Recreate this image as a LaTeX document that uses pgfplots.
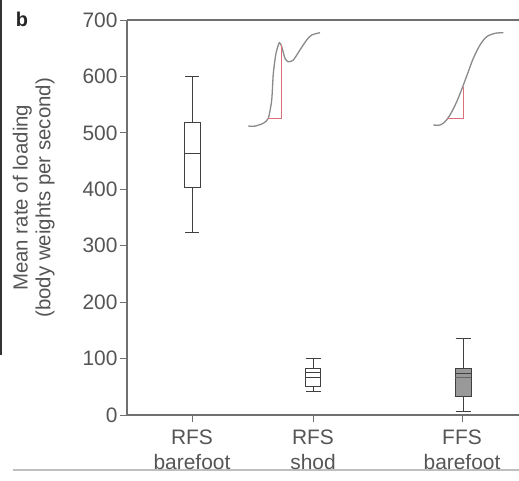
\documentclass[border=0pt]{standalone}
\usepackage{fontspec}
\setmainfont{Liberation Sans}
\usepackage{pgfplots}
\pgfplotsset{compat=1.18}
\usepgfplotslibrary{statistics}
\definecolor{axgray}{HTML}{707070}
\definecolor{txtgray}{HTML}{555555}
\definecolor{curvegray}{HTML}{8A8A8A}
\definecolor{redline}{HTML}{D9707A}
\begin{document}
\begin{tikzpicture}
\useasboundingbox (0,0) rectangle (519bp,481bp);
\fill[white] (0,0) rectangle (519bp,481bp);
\draw[black!80, line width=1.5bp] (0.75bp,481bp) -- (0.75bp,126bp);
\draw[black!25, line width=1.2bp] (13bp,11bp) -- (519bp,11bp);
\node[font=\fontsize{20}{22}\selectfont\bfseries, text=black!85] at (22bp,462bp) {b};
\begin{axis}[
  at={(127bp,66bp)}, anchor=south west,
  scale only axis, width=392bp, height=395bp,
  xmin=127, xmax=519, ymin=0, ymax=700,
  axis x line*=box, axis y line*=left,
  axis line style={axgray, line width=1.2bp},
  tick style={axgray, line width=1bp},
  tick align=outside, major tick length=7bp,
  xtick pos=bottom, ytick pos=left,
  xtick={192,313,462},
  xticklabels={RFS\\barefoot, RFS\\shod, FFS\\barefoot},
  xticklabel style={align=center, text=txtgray, font=\fontsize{21}{25}\selectfont, yshift=-4bp},
  ytick={0,100,...,700},
  yticklabel style={text=txtgray, font=\fontsize{21}{22}\selectfont, xshift=1bp},
  /pgf/number format/assume math mode=true,
  ylabel={Mean rate of loading\\(body weights per second)},
  ylabel style={align=center, text=txtgray, font=\fontsize{20.5}{23}\selectfont, at={(rel axis cs:-0.238,0.55)}, anchor=center},
  clip=false,
  boxplot/draw direction=y,
]
% box plots
\addplot[boxplot prepared={draw position=192, lower whisker=323, lower quartile=404, median=464, upper quartile=519, upper whisker=600, box extend=16, whisker extend=14}, draw=black!75, line width=1bp, fill=white] coordinates {};
\addplot[boxplot prepared={draw position=313, lower whisker=41, lower quartile=51, median=67, upper quartile=83, upper whisker=100, box extend=15, whisker extend=15}, draw=black!75, line width=1bp, fill=white] coordinates {};
\addplot[draw=black!75, line width=0.8bp] coordinates {(305.5,76) (320.5,76)};
\addplot[boxplot prepared={draw position=463, lower whisker=7, lower quartile=32, median=74, upper quartile=82, upper whisker=136, box extend=16, whisker extend=15}, draw=black!75, line width=1bp, fill=black!40] coordinates {};
\addplot[draw=black!60, line width=0.8bp] coordinates {(455,66) (471,66)};
% inset force curves
\addplot[curvegray, line width=1.3bp, smooth, tension=0.4] coordinates {
(248.3,512) (255,512) (263.3,517) (268.3,525.8) (271.7,558) (273.3,605) (276,641) (279.3,659.8) (281.7,652.7) (285,632) (288.3,626) (293.3,629) (300,647) (306.7,664.6) (311.7,673.4) (320,677.5)};
\addplot[redline, line width=1bp] coordinates {(268,526) (281,526) (281,656)};
\addplot[curvegray, line width=1.3bp, smooth, tension=0.5] coordinates {
(433.3,513.9) (440,513.9) (445,519.8) (450,531.6) (456.7,555.2) (462.7,581.8) (468.3,608.4) (473.3,632.1) (480,655.7) (486.7,670.4) (495,676.4) (503.3,677.5)};
\addplot[redline, line width=1bp] coordinates {(447,526) (463,526) (463,582)};
\end{axis}
\end{tikzpicture}
\end{document}
